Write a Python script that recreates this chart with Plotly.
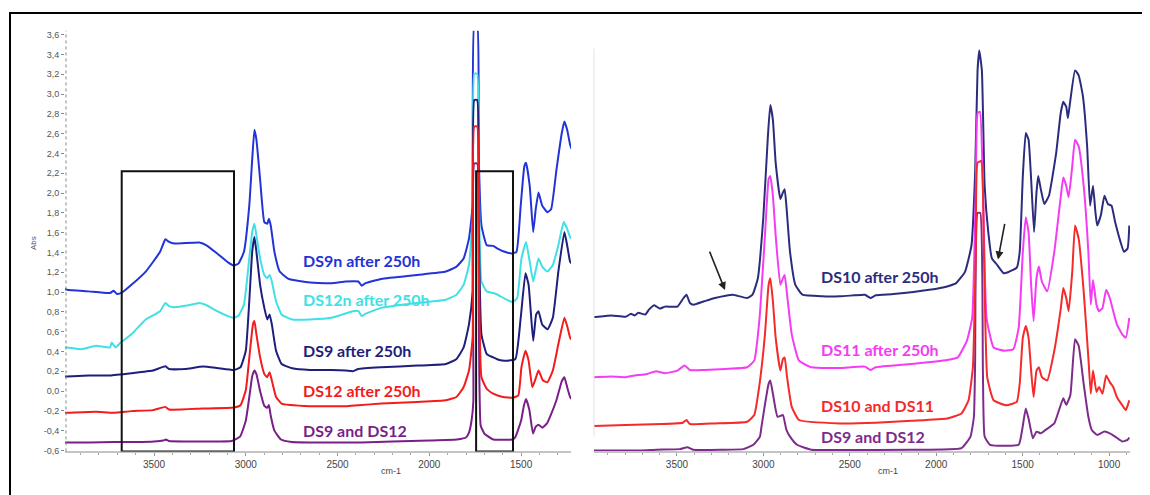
import plotly.graph_objects as go

# The page body has an 8 px margin, so the figure is shifted by (8, 8) in the window.
OFF = 8
W, H = 1142, 487


def fx(px):
    return (px - OFF) / W


def fy(py):
    return 1 - (py - OFF) / H


# ---------------- LEFT PANEL DATA (wavenumber cm-1, absorbance) ----------------
wn_ds9n = [3990, 3973, 3856, 3740, 3720, 3701, 3671, 3623, 3545, 3467, 3438, 3418, 3389, 3253, 3214, 3156, 3097,
           3064, 3039, 3010, 2981, 2965, 2953, 2942, 2922, 2899, 2883, 2874, 2864, 2844, 2815, 2767, 2650, 2533,
           2455, 2387, 2368, 2348, 2261, 2066, 1910, 1852, 1813, 1784, 1764, 1755, 1739, 1731, 1716, 1687, 1652,
           1628, 1589, 1550, 1525, 1502, 1482, 1473, 1453, 1434, 1420, 1405, 1385, 1356, 1336, 1307, 1278, 1264,
           1249, 1233, 1226]
abs_ds9n = [1.030, 1.023, 1.007, 0.990, 1.013, 0.980, 1.000, 1.073, 1.207, 1.407, 1.533, 1.507, 1.490, 1.500, 1.473,
            1.390, 1.300, 1.267, 1.290, 1.407, 1.873, 2.340, 2.640, 2.540, 2.140, 1.707, 1.690, 1.740, 1.673, 1.407,
            1.207, 1.133, 1.097, 1.090, 1.107, 1.107, 1.063, 1.090, 1.133, 1.173, 1.207, 1.257, 1.340, 1.540, 1.873,
            3.700, 3.700, 2.407, 1.673, 1.473, 1.467, 1.440, 1.407, 1.390, 1.407, 1.873, 2.273, 2.307, 2.073, 1.607,
            1.840, 2.007, 1.873, 1.807, 1.840, 2.240, 2.607, 2.723, 2.640, 2.490, 2.450]

wn_ds12n = [3990, 3973, 3895, 3817, 3740, 3730, 3710, 3681, 3623, 3545, 3467, 3438, 3418, 3389, 3311, 3253, 3214,
            3156, 3097, 3064, 3039, 3010, 2981, 2965, 2953, 2942, 2922, 2899, 2883, 2870, 2858, 2835, 2805, 2747,
            2650, 2533, 2416, 2387, 2368, 2348, 2261, 2066, 1910, 1852, 1813, 1784, 1764, 1755, 1739, 1731, 1716,
            1687, 1652, 1628, 1579, 1544, 1521, 1498, 1473, 1453, 1434, 1418, 1405, 1385, 1356, 1327, 1297, 1268,
            1253, 1233, 1226]
abs_ds12n = [0.440, 0.440, 0.423, 0.457, 0.440, 0.490, 0.440, 0.490, 0.573, 0.723, 0.807, 0.890, 0.857, 0.847, 0.867,
             0.890, 0.867, 0.807, 0.757, 0.740, 0.763, 0.873, 1.340, 1.607, 1.690, 1.573, 1.340, 1.173, 1.140, 1.173,
             1.107, 0.907, 0.773, 0.723, 0.723, 0.740, 0.807, 0.807, 0.757, 0.780, 0.840, 0.890, 0.923, 0.973, 1.073,
             1.273, 1.740, 3.207, 3.207, 2.240, 1.107, 1.007, 0.990, 0.973, 0.923, 0.900, 0.940, 1.340, 1.507, 1.307,
             1.107, 1.240, 1.340, 1.257, 1.207, 1.273, 1.473, 1.707, 1.657, 1.557, 1.540]

wn_ds9 = [3990, 3973, 3856, 3740, 3623, 3506, 3438, 3418, 3331, 3234, 3156, 3064, 3029, 3000, 2981, 2965, 2953, 2942,
          2922, 2899, 2883, 2870, 2858, 2835, 2805, 2747, 2650, 2533, 2455, 2416, 2387, 2261, 2066, 1910, 1852, 1813,
          1784, 1764, 1755, 1739, 1731, 1716, 1687, 1652, 1618, 1579, 1531, 1502, 1476, 1459, 1434, 1418, 1405, 1385,
          1356, 1327, 1297, 1264, 1249, 1233, 1226]
abs_ds9 = [0.147, 0.147, 0.157, 0.157, 0.180, 0.207, 0.250, 0.223, 0.223, 0.247, 0.233, 0.213, 0.240, 0.407, 0.907,
           1.407, 1.557, 1.407, 1.073, 0.840, 0.723, 0.773, 0.673, 0.407, 0.273, 0.230, 0.213, 0.213, 0.207, 0.200,
           0.223, 0.240, 0.257, 0.273, 0.323, 0.440, 0.673, 1.007, 2.940, 2.940, 1.740, 0.573, 0.373, 0.340, 0.313,
           0.307, 0.323, 0.740, 1.190, 1.073, 0.507, 0.773, 0.807, 0.673, 0.623, 0.740, 1.207, 1.607, 1.473, 1.307,
           1.290]

wn_ds12 = [3990, 3973, 3817, 3720, 3623, 3506, 3438, 3418, 3234, 3064, 3029, 3000, 2977, 2961, 2953, 2942, 2922, 2899,
           2883, 2870, 2858, 2835, 2805, 2650, 2455, 2387, 2261, 2066, 1910, 1852, 1813, 1784, 1764, 1755, 1739, 1731,
           1716, 1687, 1652, 1599, 1544, 1515, 1498, 1476, 1459, 1439, 1424, 1405, 1381, 1356, 1327, 1297, 1264, 1249,
           1233, 1226]
abs_ds12 = [-0.220, -0.220, -0.210, -0.220, -0.203, -0.193, -0.160, -0.187, -0.177, -0.167, -0.143, 0.007, 0.407,
            0.673, 0.707, 0.573, 0.340, 0.173, 0.140, 0.190, 0.107, -0.060, -0.127, -0.153, -0.153, -0.143, -0.127,
            -0.110, -0.093, -0.060, 0.040, 0.207, 0.540, 2.673, 2.673, 1.407, 0.140, 0.023, -0.027, -0.060, -0.067,
            -0.043, 0.240, 0.407, 0.307, 0.040, 0.107, 0.207, 0.107, 0.090, 0.207, 0.473, 0.740, 0.657, 0.540, 0.520]

wn_ds9_12_l = [3990, 3973, 3850, 3720, 3600, 3500, 3450, 3435, 3420, 3300, 3150, 3077, 3031, 3000, 2980, 2965, 2953,
               2942, 2922, 2899, 2883, 2874, 2864, 2844, 2808, 2750, 2650, 2500, 2370, 2200, 2000, 1850, 1800, 1784,
               1770, 1760, 1755, 1739, 1731, 1720, 1700, 1686, 1650, 1550, 1533, 1500, 1485, 1473, 1455, 1435, 1420,
               1405, 1385, 1360, 1340, 1307, 1278, 1264, 1249, 1233, 1226]
abs_ds9_12_l = [-0.520, -0.520, -0.520, -0.515, -0.515, -0.510, -0.500, -0.490, -0.505, -0.510, -0.510, -0.505,
                -0.460, -0.300, -0.050, 0.150, 0.207, 0.170, 0.000, -0.150, -0.170, -0.140, -0.250, -0.400, -0.490,
                -0.515, -0.520, -0.520, -0.520, -0.510, -0.500, -0.490, -0.470, -0.420, -0.300, -0.100, 2.300, 2.300,
                1.000, -0.350, -0.430, -0.450, -0.490, -0.490, -0.470, -0.300, -0.150, -0.080, -0.190, -0.430, -0.360,
                -0.340, -0.370, -0.330, -0.250, -0.090, 0.100, 0.140, 0.040, -0.060, -0.080]

# ---------------- RIGHT PANEL DATA ----------------
wn_ds10 = [3990, 3983, 3879, 3797, 3766, 3745, 3724, 3683, 3662, 3631, 3600, 3569, 3497, 3462, 3445, 3425, 3404, 3342,
           3280, 3218, 3177, 3094, 3063, 3032, 3001, 2974, 2960, 2945, 2929, 2902, 2887, 2877, 2867, 2846, 2815, 2774,
           2660, 2557, 2474, 2412, 2381, 2350, 2247, 2040, 1937, 1885, 1833, 1796, 1775, 1761, 1751, 1736, 1720, 1699,
           1678, 1647, 1610, 1585, 1534, 1517, 1499, 1482, 1466, 1451, 1434, 1420, 1410, 1395, 1375, 1348, 1306, 1280,
           1265, 1248, 1238, 1224, 1197, 1176, 1151, 1127, 1110, 1093, 1079, 1069, 1048, 1027, 1007, 986, 965, 934,
           914, 893, 883]
abs_ds10 = [0.747, 0.747, 0.763, 0.750, 0.780, 0.763, 0.790, 0.773, 0.823, 0.867, 0.833, 0.853, 0.853, 0.940, 0.973,
            0.890, 0.873, 0.907, 0.940, 0.963, 0.973, 0.940, 0.973, 1.140, 1.740, 2.573, 2.890, 2.740, 2.307, 1.940,
            2.007, 2.040, 1.873, 1.407, 1.073, 0.973, 0.957, 0.957, 0.967, 0.973, 0.940, 0.967, 0.980, 1.023, 1.057,
            1.090, 1.207, 1.473, 2.207, 3.240, 3.440, 3.240, 2.073, 1.607, 1.340, 1.273, 1.190, 1.200, 1.247, 1.407,
            2.173, 2.607, 2.540, 2.140, 1.607, 2.007, 2.173, 2.040, 1.890, 1.973, 2.407, 2.807, 2.923, 2.873, 2.757,
            2.940, 3.240, 3.190, 2.973, 2.473, 1.873, 2.073, 1.807, 1.673, 1.773, 1.973, 1.890, 1.873, 1.707, 1.507,
            1.407, 1.440, 1.673]

wn_ds11 = [3990, 3983, 3879, 3797, 3745, 3673, 3621, 3569, 3497, 3456, 3425, 3342, 3218, 3094, 3053, 3022, 2991, 2970,
           2960, 2945, 2929, 2902, 2887, 2877, 2863, 2836, 2794, 2722, 2557, 2412, 2381, 2350, 2143, 1937, 1875, 1823,
           1792, 1771, 1761, 1747, 1730, 1709, 1668, 1606, 1554, 1523, 1499, 1482, 1466, 1451, 1437, 1420, 1406, 1389,
           1358, 1317, 1279, 1265, 1248, 1234, 1213, 1197, 1176, 1147, 1120, 1106, 1093, 1073, 1058, 1038, 1017, 996,
           976, 955, 924, 903, 883]
abs_ds11 = [0.140, 0.140, 0.147, 0.140, 0.157, 0.173, 0.200, 0.180, 0.207, 0.257, 0.213, 0.213, 0.223, 0.240, 0.307,
            0.740, 1.573, 2.140, 2.173, 1.973, 1.573, 1.073, 1.140, 1.173, 0.973, 0.573, 0.307, 0.240, 0.233, 0.247,
            0.213, 0.240, 0.273, 0.313, 0.340, 0.507, 0.740, 2.073, 2.807, 2.823, 2.073, 0.740, 0.440, 0.407, 0.423,
            0.640, 1.407, 1.757, 1.607, 1.073, 0.707, 1.140, 1.257, 1.107, 1.007, 1.407, 1.973, 2.157, 2.073, 1.957,
            2.273, 2.540, 2.473, 2.073, 1.407, 0.873, 1.123, 0.873, 0.807, 0.840, 1.023, 0.940, 0.807, 0.673, 0.573,
            0.540, 0.740]

wn_ds10_11 = [3990, 3983, 3797, 3590, 3466, 3445, 3425, 3280, 3094, 3053, 3022, 2991, 2970, 2960, 2945, 2929, 2902,
              2887, 2877, 2863, 2836, 2794, 2557, 2350, 2143, 1937, 1854, 1813, 1788, 1771, 1761, 1740, 1724, 1705,
              1668, 1596, 1534, 1517, 1499, 1482, 1466, 1451, 1437, 1420, 1406, 1389, 1358, 1317, 1279, 1265, 1248,
              1234, 1213, 1197, 1176, 1147, 1120, 1106, 1093, 1073, 1058, 1038, 1017, 996, 976, 955, 924, 903, 883]
abs_ds10_11 = [-0.353, -0.353, -0.343, -0.333, -0.320, -0.293, -0.333, -0.327, -0.310, -0.243, 0.073, 0.573, 1.073,
               1.140, 0.907, 0.540, 0.207, 0.323, 0.340, 0.140, -0.160, -0.293, -0.327, -0.320, -0.300, -0.277,
               -0.227, -0.093, 0.240, 1.407, 2.307, 2.323, 1.407, 0.140, -0.093, -0.143, -0.110, 0.073, 0.540, 0.657,
               0.540, 0.207, -0.060, 0.207, 0.240, 0.140, 0.107, 0.407, 0.840, 1.040, 0.940, 0.807, 1.207, 1.673,
               1.540, 1.007, 0.340, -0.027, 0.207, -0.010, 0.040, -0.027, 0.157, 0.090, 0.040, -0.060, -0.143, -0.193,
               -0.093]

wn_ds9_12_r = [3990, 3980, 3714, 3617, 3483, 3440, 3407, 3234, 3116, 3058, 3020, 3011, 2987, 2970, 2960, 2945, 2918,
               2887, 2867, 2846, 2805, 2722, 2557, 2143, 1854, 1802, 1782, 1775, 1761, 1745, 1730, 1720, 1689, 1523,
               1503, 1482, 1466, 1441, 1420, 1395, 1368, 1317, 1265, 1248, 1224, 1197, 1176, 1147, 1120, 1100, 1069,
               1027, 996, 965, 924, 893, 883]
abs_ds9_12_r = [-0.600, -0.600, -0.600, -0.593, -0.587, -0.567, -0.593, -0.593, -0.587, -0.543, -0.460, -0.360,
                -0.093, 0.073, 0.107, -0.027, -0.260, -0.243, -0.393, -0.460, -0.543, -0.593, -0.595, -0.593, -0.577,
                -0.460, -0.260, 0.300, 1.800, 1.800, 0.200, -0.460, -0.543, -0.543, -0.393, -0.177, -0.277, -0.477,
                -0.410, -0.427, -0.393, -0.327, -0.073, -0.140, -0.040, 0.523, 0.457, 0.073, -0.260, -0.393, -0.443,
                -0.410, -0.427, -0.460, -0.510, -0.493, -0.470]

# axis / tick definitions
y_ticks = [-0.6, -0.4, -0.2, 0.0, 0.2, 0.4, 0.6, 0.8, 1.0, 1.2, 1.4, 1.6, 1.8, 2.0, 2.2, 2.4, 2.6, 2.8, 3.0, 3.2, 3.4, 3.6]
y_tick_text = [f"{v:.1f}".replace(".", ",") for v in y_ticks]
x_ticks_left = [3500, 3000, 2500, 2000, 1500]
x_ticks_right = [3500, 3000, 2500, 2000, 1500, 1000]

labels_left = ["DS9n after 250h", "DS12n after 250h", "DS9 after 250h", "DS12 after 250h", "DS9 and DS12"]
labels_right = ["DS10 after 250h", "DS11 after 250h", "DS10 and DS11", "DS9 and DS12"]

C_BLUE = "#2233d8"
C_CYAN = "#3fe0e6"
C_NAVY = "#1e1e7c"
C_RED = "#f21c1c"
C_PURPLE = "#7a1f88"
C_NAVY_R = "#2c2c7e"
C_MAG = "#f43cf4"
C_RED_R = "#f52a2a"
C_PURPLE_R = "#7d2c8c"

# ---------------- FIGURE ----------------
fig = go.Figure()


def add(x, y, color, xa, ya):
    fig.add_trace(go.Scatter(x=x, y=y, mode="lines", xaxis=xa, yaxis=ya,
                             line=dict(color=color, width=2, shape="spline", smoothing=0.4),
                             hoverinfo="skip", showlegend=False))


# left (drawn bottom-most first)
add(wn_ds9_12_l, abs_ds9_12_l, C_PURPLE, "x", "y")
add(wn_ds9n, abs_ds9n, C_BLUE, "x", "y")
add(wn_ds12n, abs_ds12n, C_CYAN, "x", "y")
add(wn_ds9, abs_ds9, C_NAVY, "x", "y")
add(wn_ds12, abs_ds12, C_RED, "x", "y")
# right
add(wn_ds9_12_r, abs_ds9_12_r, C_PURPLE_R, "x2", "y2")
add(wn_ds10, abs_ds10, C_NAVY_R, "x2", "y2")
add(wn_ds11, abs_ds11, C_MAG, "x2", "y2")
add(wn_ds10_11, abs_ds10_11, C_RED_R, "x2", "y2")

YR = [-0.61, 3.64]
ydom = [fy(455), fy(30)]
tickfont = dict(family="Liberation Sans, Arial", size=10, color="#444")

fig.update_layout(
    width=W, height=H, margin=dict(l=0, r=0, t=0, b=0),
    paper_bgcolor="white", plot_bgcolor="rgba(0,0,0,0)",
    xaxis=dict(domain=[fx(65), fx(571)], range=[3985, 1228], anchor="y",
               tickvals=x_ticks_left, ticktext=[str(v) for v in x_ticks_left],
               showgrid=False, zeroline=False, showline=True, linecolor="#c4c4c4", linewidth=1.5,
               ticks="outside", ticklen=3, tickcolor="#999", tickfont=tickfont,
               minor=dict(dtick=100, ticks="outside", ticklen=2, tickcolor="#aaa", showgrid=False)),
    yaxis=dict(domain=ydom, range=YR, anchor="x",
               tickvals=y_ticks, ticktext=y_tick_text,
               showgrid=False, zeroline=False, showline=False,
               ticks="outside", ticklen=3, tickcolor="#888",
               tickfont=dict(family="Liberation Sans, Arial", size=9, color="#555")),
    xaxis2=dict(domain=[fx(594), fx(1130)], range=[3980, 879], anchor="y2",
                tickvals=x_ticks_right, ticktext=[str(v) for v in x_ticks_right],
                showgrid=False, zeroline=False, showline=True, linecolor="#c4c4c4", linewidth=1.5,
                ticks="outside", ticklen=3, tickcolor="#999", tickfont=tickfont,
                minor=dict(dtick=100, ticks="outside", ticklen=2, tickcolor="#aaa", showgrid=False)),
    yaxis2=dict(domain=ydom, range=YR, anchor="x2", visible=False),
)

shapes = []
# outer frame
shapes.append(dict(type="rect", xref="paper", yref="paper", x0=fx(10), x1=fx(1143), y0=-0.05, y1=fy(12),
                   line=dict(color="black", width=2), fillcolor="rgba(0,0,0,0)", layer="above"))
# dotted y axis line
shapes.append(dict(type="line", xref="paper", yref="paper", x0=fx(66), x1=fx(66), y0=ydom[0], y1=ydom[1],
                   line=dict(color="#888", width=1, dash="dot")))
# faint edge of right panel
shapes.append(dict(type="line", xref="paper", yref="paper", x0=fx(594), x1=fx(594), y0=fy(440), y1=fy(48),
                   line=dict(color="#e2e2e2", width=1)))
# highlight boxes on the left panel
box_wn = [(3676, 3064), (1745, 1544)]
box_top = 2.22
for a, b in box_wn:
    shapes.append(dict(type="rect", xref="x", yref="y", x0=a, x1=b, y0=YR[0], y1=box_top,
                       line=dict(color="#111", width=2), fillcolor="rgba(0,0,0,0)", layer="above"))
fig.update_layout(shapes=shapes)

ann = []
lab_font = "Lato, Carlito, Calibri, sans-serif"
left_y = [261.7, 301.7, 352.7, 393.3, 434]
left_c = [C_BLUE, C_CYAN, C_NAVY, C_RED, C_PURPLE]
for t, py, c in zip(labels_left, left_y, left_c):
    ann.append(dict(text=f"<b>{t}</b>", xref="paper", yref="paper", x=fx(301), y=fy(py),
                    xanchor="left", yanchor="middle", showarrow=False,
                    font=dict(family=lab_font, size=16, color=c)))
right_y = [278.3, 351.7, 408.3, 440]
right_c = [C_NAVY_R, C_MAG, C_RED_R, C_PURPLE_R]
for t, py, c in zip(labels_right, right_y, right_c):
    ann.append(dict(text=f"<b>{t}</b>", xref="paper", yref="paper", x=fx(819), y=fy(py),
                    xanchor="left", yanchor="middle", showarrow=False,
                    font=dict(family=lab_font, size=16, color=c)))
# axis titles
ann.append(dict(text="cm-1", xref="paper", yref="paper", x=fx(391), y=fy(482), showarrow=False,
                font=dict(family="Liberation Sans, Arial", size=9, color="#444")))
ann.append(dict(text="cm-1", xref="paper", yref="paper", x=fx(900), y=fy(482), showarrow=False,
                font=dict(family="Liberation Sans, Arial", size=9, color="#444")))
ann.append(dict(text="Abs", xref="paper", yref="paper", x=fx(27), y=fy(245), showarrow=False, textangle=-90,
                font=dict(family="Liberation Sans, Arial", size=8, color="#555")))
# arrows on right panel
ann.append(dict(text="", xref="paper", yref="paper", x=fx(725), y=fy(292), ax=-16, ay=-40,
                showarrow=True, arrowhead=2, arrowsize=1, arrowwidth=1.6, arrowcolor="#222"))
ann.append(dict(text="", xref="paper", yref="paper", x=fx(998), y=fy(261), ax=7, ay=-37,
                showarrow=True, arrowhead=2, arrowsize=1, arrowwidth=1.6, arrowcolor="#222"))
fig.update_layout(annotations=ann)

fig.write_html("out.html")
